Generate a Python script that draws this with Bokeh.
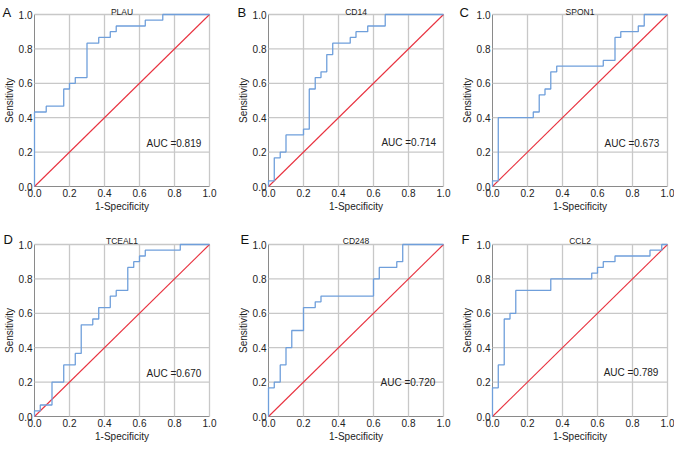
from bokeh.plotting import figure
from bokeh.layouts import row, column
from bokeh.models import Label, FixedTicker, PrintfTickFormatter, Range1d
from bokeh.embed import file_html
from bokeh.resources import INLINE

letters = ["A", "B", "C", "D", "E", "F"]
genes = ["PLAU", "CD14", "SPON1", "TCEAL1", "CD248", "CCL2"]
auc_text = ["0.819", "0.714", "0.673", "0.670", "0.720", "0.789"]

# ROC operating points (1-Specificity, Sensitivity)
plau_fpr = [0, 0, 0.067, 0.167, 0.2, 0.233, 0.3, 0.367, 0.433, 0.467, 0.633, 0.733, 1.0]
plau_tpr = [0, 0.433, 0.467, 0.567, 0.6, 0.633, 0.833, 0.867, 0.9, 0.933, 0.967, 1.0, 1.0]

cd14_fpr = [0, 0, 0.033, 0.067, 0.1, 0.2, 0.233, 0.267, 0.3, 0.333, 0.367, 0.467, 0.5, 0.567, 0.667, 1.0]
cd14_tpr = [0, 0.033, 0.167, 0.2, 0.3, 0.333, 0.567, 0.633, 0.667, 0.767, 0.833, 0.867, 0.9, 0.933, 1.0, 1.0]

spon1_fpr = [0, 0, 0.033, 0.233, 0.267, 0.3, 0.333, 0.367, 0.633, 0.7, 0.733, 0.833, 0.867, 1.0]
spon1_tpr = [0, 0.033, 0.4, 0.433, 0.533, 0.567, 0.667, 0.7, 0.733, 0.867, 0.9, 0.933, 1.0, 1.0]

tceal1_fpr = [0, 0, 0.033, 0.1, 0.167, 0.233, 0.267, 0.333, 0.367, 0.433, 0.467, 0.533, 0.567, 0.6, 0.633, 0.833, 1.0]
tceal1_tpr = [0, 0.033, 0.067, 0.2, 0.3, 0.367, 0.533, 0.567, 0.633, 0.7, 0.733, 0.867, 0.9, 0.933, 0.967, 1.0, 1.0]

cd248_fpr = [0, 0, 0.033, 0.067, 0.1, 0.133, 0.2, 0.267, 0.3, 0.6, 0.633, 0.733, 0.767, 1.0]
cd248_tpr = [0, 0.167, 0.2, 0.3, 0.4, 0.5, 0.633, 0.667, 0.7, 0.8, 0.867, 0.9, 1.0, 1.0]

ccl2_fpr = [0, 0, 0.033, 0.067, 0.1, 0.133, 0.333, 0.567, 0.6, 0.633, 0.7, 0.9, 0.967, 1.0]
ccl2_tpr = [0, 0.167, 0.3, 0.567, 0.6, 0.733, 0.8, 0.833, 0.867, 0.9, 0.933, 0.967, 1.0, 1.0]

fprs = [plau_fpr, cd14_fpr, spon1_fpr, tceal1_fpr, cd248_fpr, ccl2_fpr]
tprs = [plau_tpr, cd14_tpr, spon1_tpr, tceal1_tpr, cd248_tpr, ccl2_tpr]

ref_line = [0, 1]
ticks = [0, 0.2, 0.4, 0.6, 0.8, 1.0]
auc_pos_x = [0.64, 0.645, 0.64, 0.64, 0.64, 0.635]
auc_pos_y = [0.25, 0.254, 0.25, 0.25, 0.20, 0.254]

FONT = "Liberation Sans"
TXT = "#222222"
BLUE = "#6f9fdb"
RED = "#e8323f"
GRID = "#c8c8c8"
AXIS = "#8a8a8a"

# layout in pixels
COL_W = [234, 224, 216]
ROW_H = [212, 230]
ROW_TOP = [14, 32]
FRAME_LEFT = 34
FRAME_W = 175
FRAME_H = 172
letter_off = [-32, -31, -33, -31, -28, -31]
letter_lift = [2, 2, 2, 5, 5, 5]
title_lift = [3, 3, 3, 4, 4, 4]


def make_panel(i):
    c = i % 3
    r = i // 3
    W, H, T = COL_W[c], ROW_H[r], ROW_TOP[r]
    xr = Range1d(-FRAME_LEFT / FRAME_W, (W - FRAME_LEFT) / FRAME_W)
    yr = Range1d(-(H - T - FRAME_H) / FRAME_H, 1 + T / FRAME_H)
    p = figure(
        output_backend="svg", toolbar_location=None,
        width=W, height=H, x_range=xr, y_range=yr,
        min_border=0, min_border_left=0, min_border_right=0,
        min_border_top=0, min_border_bottom=0,
    )
    p.title.visible = False
    p.outline_line_color = None
    p.background_fill_color = "white"
    p.border_fill_color = "white"
    p.grid.visible = False

    for ax in (p.xaxis[0], p.yaxis[0]):
        ax.fixed_location = 0
        ax.bounds = (0, 1)
        ax.level = "underlay"
        ax.ticker = FixedTicker(ticks=ticks)
        ax.formatter = PrintfTickFormatter(format="%.1f")
        ax.major_tick_line_color = None
        ax.minor_tick_line_color = None
        ax.major_tick_out = 0
        ax.major_tick_in = 0
        ax.minor_tick_out = 0
        ax.minor_tick_in = 0
        ax.axis_line_color = AXIS
        ax.axis_line_width = 1
        ax.major_label_text_font = FONT
        ax.major_label_text_font_size = "10px"
        ax.major_label_text_color = TXT
        ax.axis_label_text_font = FONT
        ax.axis_label_text_font_size = "10px"
        ax.axis_label_text_font_style = "normal"
        ax.axis_label_text_color = TXT
        ax.major_label_standoff = 2
        ax.axis_label_standoff = 1
    p.xaxis.axis_label = "1-Specificity"
    p.yaxis.axis_label = "Sensitivity"

    # grid lines (including the top and right edges) at the tick values
    gt = ticks[1:]
    p.segment(x0=gt, y0=[ticks[0]] * len(gt), x1=gt, y1=[ticks[-1]] * len(gt),
              line_color=GRID, line_width=1.3)
    p.segment(x0=[ticks[0]] * len(gt), y0=gt, x1=[ticks[-1]] * len(gt), y1=gt,
              line_color=GRID, line_width=1.3)

    p.line(ref_line, ref_line, line_color=RED, line_width=1.1)
    p.step(fprs[i], tprs[i], mode="after", line_color=BLUE, line_width=1.3)

    p.add_layout(Label(x=auc_pos_x[i], y=auc_pos_y[i], text="AUC =" + auc_text[i],
                       text_font=FONT, text_font_size="10px", text_color=TXT,
                       text_baseline="middle", text_align="left"))
    p.add_layout(Label(x=0.5, y=1.0, y_offset=title_lift[i], text=genes[i],
                       text_font=FONT, text_font_size="8.5px", text_color=TXT,
                       text_baseline="alphabetic", text_align="center"))
    p.add_layout(Label(x=0, y=1.0, x_offset=letter_off[i], y_offset=letter_lift[i],
                       text=letters[i], text_font=FONT, text_font_size="13px",
                       text_color="#111111", text_baseline="alphabetic", text_align="left"))
    return p


panels = [make_panel(i) for i in range(6)]
layout = column(row(*panels[:3]), row(*panels[3:]))

open("out.html", "w").write(file_html(layout, INLINE))
